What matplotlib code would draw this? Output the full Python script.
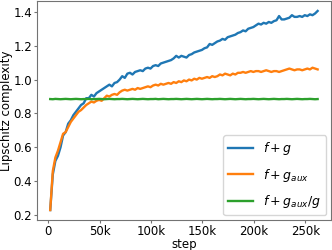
import numpy as np
import matplotlib
matplotlib.use('Agg')
import matplotlib.pyplot as plt

# training steps (logged every 2.5k)
steps = np.arange(2000, 262001, 2500)

# f + g
lip_fg = [
    0.23, 0.44, 0.52, 0.55, 0.60, 0.67, 0.69, 0.74, 0.76, 0.79,
    0.81, 0.83, 0.85, 0.86, 0.89, 0.89, 0.91, 0.90, 0.92, 0.93,
    0.94, 0.95, 0.96, 0.97, 0.96, 0.98, 0.985, 1.00, 1.02, 1.01,
    1.035, 1.04, 1.03, 1.045, 1.05, 1.055, 1.05, 1.065, 1.07, 1.065,
    1.08, 1.085, 1.08, 1.095, 1.10, 1.105, 1.11, 1.115, 1.125, 1.14,
    1.13, 1.14, 1.135, 1.13, 1.145, 1.15, 1.16, 1.165, 1.17, 1.175,
    1.185, 1.19, 1.21, 1.205, 1.215, 1.225, 1.23, 1.24, 1.235, 1.25,
    1.255, 1.26, 1.265, 1.275, 1.28, 1.29, 1.285, 1.30, 1.305, 1.31,
    1.32, 1.33, 1.325, 1.335, 1.33, 1.34, 1.335, 1.345, 1.35, 1.375,
    1.355, 1.355, 1.36, 1.365, 1.38, 1.37, 1.37, 1.375, 1.37, 1.38,
    1.375, 1.385, 1.38, 1.39, 1.405,
]

# f + g_aux
lip_fgaux = [
    0.23, 0.46, 0.54, 0.58, 0.63, 0.68, 0.69, 0.72, 0.75, 0.77,
    0.79, 0.81, 0.82, 0.835, 0.85, 0.86, 0.87, 0.865, 0.875, 0.88,
    0.875, 0.89, 0.905, 0.90, 0.91, 0.915, 0.91, 0.925, 0.935, 0.94,
    0.935, 0.94, 0.945, 0.94, 0.95, 0.945, 0.95, 0.955, 0.96, 0.955,
    0.965, 0.97, 0.965, 0.975, 0.97, 0.975, 0.98, 0.975, 0.985, 0.98,
    0.99, 0.985, 0.995, 0.99, 1.00, 0.995, 1.005, 1.00, 1.01, 1.005,
    1.01, 1.015, 1.01, 1.02, 1.015, 1.02, 1.03, 1.025, 1.035, 1.03,
    1.025, 1.035, 1.03, 1.04, 1.04, 1.045, 1.04, 1.045, 1.05, 1.045,
    1.05, 1.05, 1.045, 1.05, 1.055, 1.05, 1.045, 1.05, 1.05, 1.045,
    1.05, 1.055, 1.06, 1.065, 1.06, 1.055, 1.06, 1.06, 1.055, 1.06,
    1.065, 1.06, 1.07, 1.065, 1.06,
]

# f + g_aux / g
lip_fgaux_g = [
    0.885, 0.884, 0.886, 0.885, 0.884, 0.885, 0.886, 0.885, 0.884, 0.885,
    0.886, 0.885, 0.884, 0.885, 0.885, 0.886, 0.884, 0.885, 0.885, 0.886,
    0.885, 0.884, 0.885, 0.886, 0.885, 0.884, 0.885, 0.885, 0.886, 0.885,
    0.884, 0.885, 0.886, 0.885, 0.884, 0.885, 0.886, 0.885, 0.884, 0.885,
    0.885, 0.886, 0.884, 0.885, 0.886, 0.885, 0.884, 0.885, 0.885, 0.886,
    0.885, 0.884, 0.885, 0.886, 0.885, 0.884, 0.885, 0.886, 0.885, 0.884,
    0.885, 0.886, 0.885, 0.884, 0.885, 0.885, 0.886, 0.885, 0.884, 0.885,
    0.886, 0.885, 0.884, 0.885, 0.886, 0.885, 0.884, 0.885, 0.885, 0.886,
    0.885, 0.884, 0.885, 0.886, 0.885, 0.884, 0.885, 0.886, 0.885, 0.884,
    0.885, 0.885, 0.886, 0.885, 0.884, 0.885, 0.886, 0.885, 0.884, 0.885,
    0.885, 0.886, 0.885, 0.884, 0.885,
]

plt.rcParams['font.size'] = 8.5

fig = plt.figure(figsize=(3.32, 2.5), dpi=100)
ax = fig.add_axes([0.111, 0.12, 0.886, 0.876])

ax.plot(steps, lip_fg, color='#1f77b4', lw=1.7, label='$f+g$')
ax.plot(steps, lip_fgaux, color='#ff7f0e', lw=1.7, label='$f+g_{aux}$')
ax.plot(steps, lip_fgaux_g, color='#2ca02c', lw=1.7, label='$f+g_{aux}/g$')

ax.set_xticks([0, 50000, 100000, 150000, 200000, 250000])
ax.set_xticklabels(['0', '50k', '100k', '150k', '200k', '250k'])
ax.set_xlabel('step', labelpad=0)
ax.set_ylabel('Lipschitz complexity', labelpad=0)
for s in ax.spines.values():
    s.set_color('0.45')
ax.tick_params(colors='0.45', labelcolor='black', length=2, pad=1.5)
ax.legend(loc='lower right', fontsize=9, labelspacing=0.75, borderaxespad=0.4)

plt.savefig('out.png', dpi=100)
